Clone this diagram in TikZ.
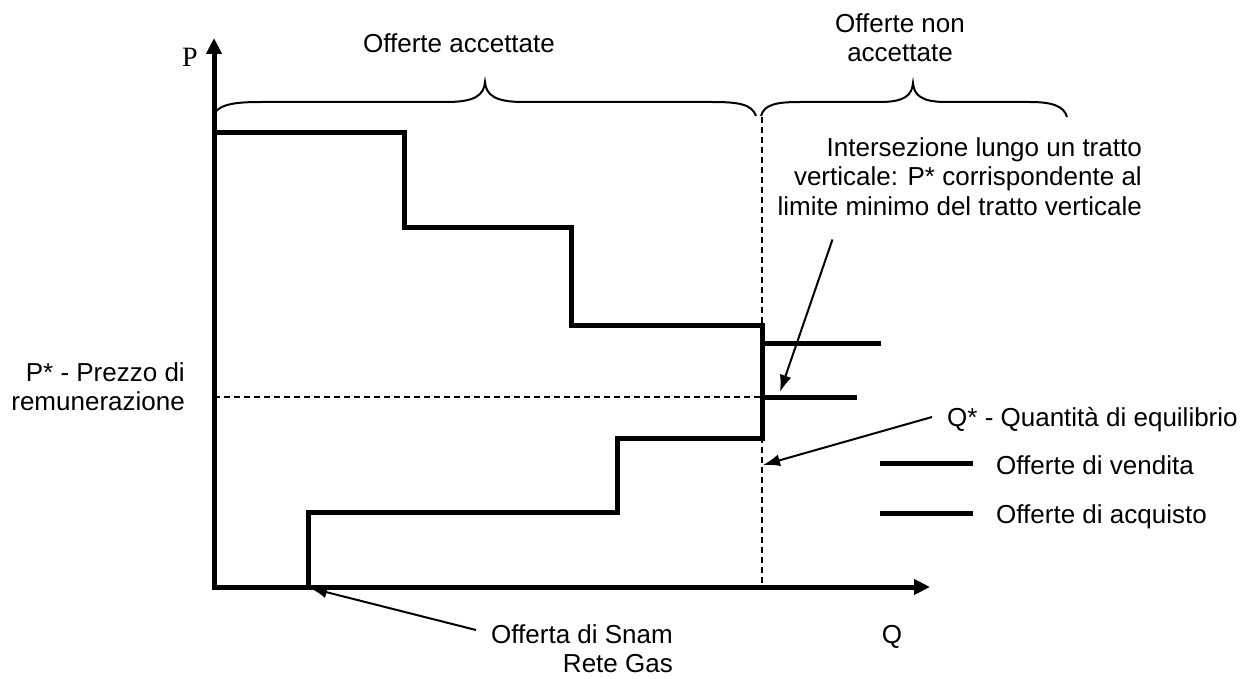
\documentclass[tikz,border=0pt]{standalone}
\usepackage{fontspec}
\setmainfont{Liberation Sans}
\newfontfamily\seriffam{Liberation Serif}
\usetikzlibrary{arrows.meta,calc}
\begin{document}
\begin{tikzpicture}[x=1pt,y=-1pt,
  font=\fontsize{26}{29.5}\selectfont,
  every node/.style={inner sep=0pt},
  axisline/.style={line width=5pt, line join=miter,
     arrows={Triangle[length=16pt,width=15pt]-Triangle[length=16pt,width=15pt]}},
  curve/.style={line width=5pt, line join=miter},
  guide/.style={line width=1.5pt, dash pattern=on 6pt off 4pt},
  brace/.style={line width=2pt},
  pointer/.style={line width=2pt, -{Latex[length=17pt,width=12pt]}},
  legendline/.style={line width=5pt}]
\useasboundingbox (0,0) rectangle (1260,679);
% coordinates
\coordinate (O) at (214,587);
\coordinate (ytip) at (214,38);
\coordinate (xtip) at (930,587);
\coordinate (ptip) at (780,392);
\coordinate (qtip) at (763,465);
\coordinate (snamtip) at (310,588);
% guides
\draw[guide] (214,397) -- (762,397);
\draw[guide] (762,117) -- (762,587);
% axes
\draw[axisline] (ytip) -- (O) -- (xtip);
% curves
\draw[curve] (214,133) -- (404,133) -- (404,227) -- (571,227) -- (571,325)
   -- (762,325) -- (762,397) -- (857,397);
\draw[curve] (214,587) -- (308,587) -- (308,512) -- (617,512) -- (617,438)
   -- (762,438) -- (762,343) -- (881,343);
% braces
\draw[brace] (214,114) .. controls (220,103) and (240,102) .. (262,102) -- (447,102)
   .. controls (475,102) and (484,95) .. (485,82)
   .. controls (486,95) and (495,102) .. (523,102) -- (712,102)
   .. controls (738,102) and (752,104) .. (756,116);
\draw[brace] (761,116) .. controls (764,104) and (778,102) .. (800,102) -- (880,102)
   .. controls (905,102) and (912,95) .. (913,83)
   .. controls (914,95) and (921,102) .. (946,102) -- (1030,102)
   .. controls (1052,102) and (1064,106) .. (1067,117);
% legend
\draw[legendline] (880,463) -- (973,463);
\draw[legendline] (880,513) -- (973,513);
\node[anchor=base west] (vend) at (996,474) {Offerte di vendita};
\node[anchor=base west] (acq) at (996,523) {Offerte di acquisto};
% labels
\node[anchor=base] (plab) at (190,67) {\seriffam\fontsize{28}{30}\selectfont P};
\node[anchor=base] (qlab) at (892,643) {Q};
\node[anchor=base] (acc) at (459,53) {Offerte accettate};
\node[anchor=north, align=center] (nonacc) at (900,13) {Offerte non\\accettate};
\node[anchor=north east, align=right] (inter) at (1142,137)
  {Intersezione lungo un tratto\\verticale: P* corrispondente al\\limite minimo del tratto verticale};
\node[anchor=north east, align=right] (pstar) at (185,362) {P* - Prezzo di\\remunerazione};
\node[anchor=base west] (qstar) at (947,426) {Q* - Quantità di equilibrio};
\node[anchor=north east, align=right] (snam) at (673,624) {Offerta di Snam\\Rete Gas};
% pointers
\draw[pointer] ($(inter.south west)+(55,24)$) -- (ptip);
\draw[pointer] ($(qstar.base west)+(-15,-9)$) -- (qtip);
\draw[pointer] ($(snam.north west)+(-15,6)$) -- (snamtip);
\end{tikzpicture}
\end{document}
